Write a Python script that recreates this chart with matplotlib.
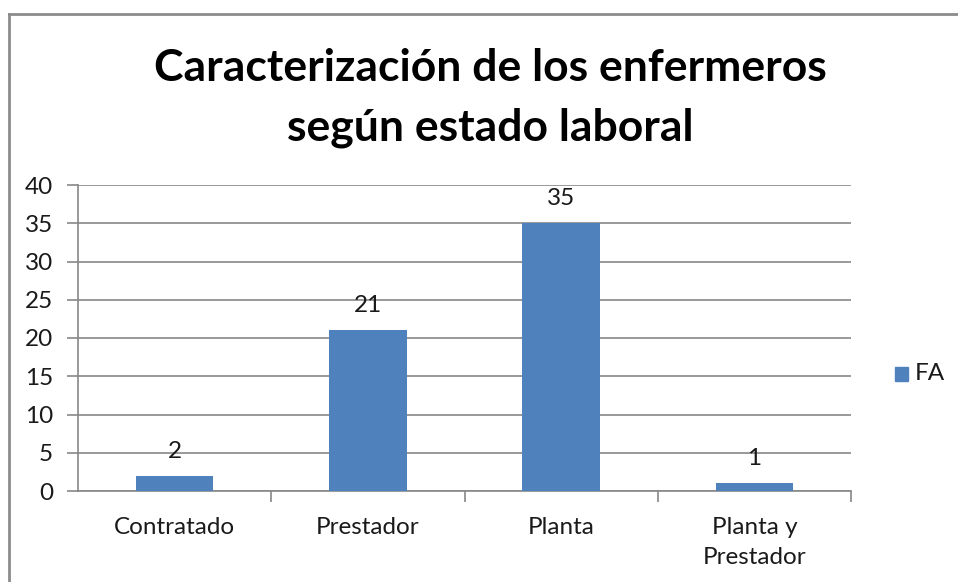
import matplotlib
matplotlib.use("Agg")
import matplotlib.pyplot as plt
from matplotlib.lines import Line2D
from matplotlib.patches import Rectangle

categories = ["Contratado", "Prestador", "Planta", "Planta y\nPrestador"]
values = [2, 21, 35, 1]
series_name = "FA"
yticks = [0, 5, 10, 15, 20, 25, 30, 35, 40]
title = "Caracterización de los enfermeros\nsegún estado laboral"

plt.rcParams['font.family'] = ['Lato', 'DejaVu Sans']
W, H = 958, 582
fig = plt.figure(figsize=(W/100, H/100), dpi=100)
bar_color = "#4F81BD"
grid_color = "#878787"
txt_color = "#1a1a1a"
fs = 17.5

# axes box in pixels
x0, x1 = 78, 851
y_top, y_bot = 185, 491
ax = fig.add_axes([x0/W, 1 - y_bot/H, (x1-x0)/W, (y_bot-y_top)/H])

xs = list(range(len(categories)))
ax.bar(xs, values, width=0.4, color=bar_color, zorder=3)
ax.set_xlim(-0.5, len(categories) - 0.5)
ax.set_ylim(0, 40)
ax.set_yticks(yticks)
ax.set_yticklabels([str(t) for t in yticks], fontsize=fs, color=txt_color)
ax.set_xticks(xs)
ax.set_xticklabels(categories, fontsize=fs, color=txt_color, linespacing=1.5)
ax.tick_params(axis='x', length=0, pad=19)
ax.tick_params(axis='y', length=8, color=grid_color, width=1.2, pad=10)
# minor ticks at category boundaries
ax.set_xticks([i + 0.5 for i in range(len(categories))], minor=True)
ax.tick_params(axis='x', which='minor', length=8, color=grid_color, width=1.2)
ax.grid(axis='y', color=grid_color, linewidth=1.2, zorder=0)
for s in ['top', 'right']:
    ax.spines[s].set_visible(False)
for s in ['left', 'bottom']:
    ax.spines[s].set_color(grid_color)
    ax.spines[s].set_linewidth(1.2)

for x, v in zip(xs, values):
    ax.annotate(str(v), (x, v), xytext=(0, 10), textcoords='offset points',
                ha='center', va='bottom', fontsize=fs, color=txt_color)

fig.text(490/W, 1 - 98/H, title, ha='center', va='center', fontsize=32,
         fontweight='bold', linespacing=1.6, color="black")

# legend
fig.patches.append(Rectangle((895/W, 1 - 381/H), 13/W, 14/H,
                             transform=fig.transFigure, color=bar_color))
fig.text(915/W, 1 - 374/H, series_name, ha='left', va='center', fontsize=fs,
         color=txt_color)

# outer border (top and left visible)
fig.lines.append(Line2D([9/W, 9/W], [0, 1 - 14/H], transform=fig.transFigure,
                        color="#8c8c8c", linewidth=2))
fig.lines.append(Line2D([9/W, 1], [1 - 14/H, 1 - 14/H], transform=fig.transFigure,
                        color="#8c8c8c", linewidth=2))

fig.savefig("out.png", dpi=100)
